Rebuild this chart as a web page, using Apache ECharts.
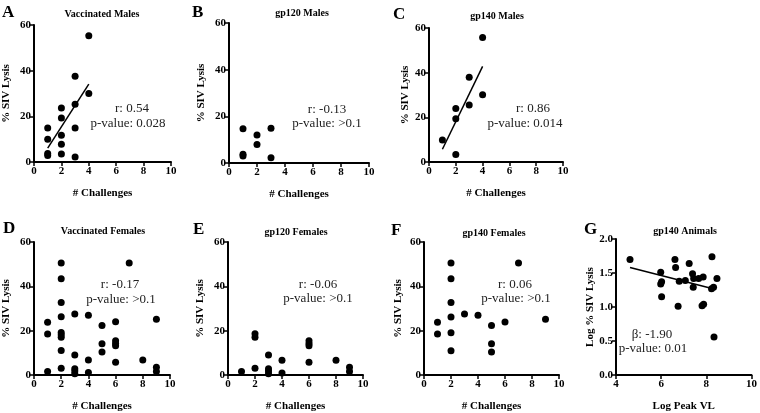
<!DOCTYPE html>
<html>
<head>
<meta charset="utf-8">
<script src="https://cdn.jsdelivr.net/npm/echarts@6/dist/echarts.min.js"></script>
<style>
html,body{margin:0;padding:0;background:#fff;}
#chart{width:760px;height:413px;}
</style>
</head>
<body>
<div id="chart"></div>
<script>
// ---- Data ----
const challengesA = [1,1,1,1,2,2,2,2,2,3,3,3,3,4,4];
const lysisA      = [14.9,10,3.7,2.9,23.7,19.3,11.7,7.8,3.5,37.6,25.3,14.9,2.2,55.3,30];
const fitA        = [[1,6.1],[4,34.1]];

const challengesB = [1,1,1,2,2,3,3];
const lysisB      = [14.7,3.7,3.0,12.0,7.9,14.9,2.3];

const challengesC = [1,2,2,2,3,3,4,4];
const lysisC      = [9.9,3.4,19.4,23.9,25.5,37.9,55.8,30.1];
const fitC        = [[1,5.7],[4,42.8]];

const challengesD = [1,1,1,2,2,2,2,2,2,2,2,2,3,3,3,3,3,4,4,4,5,5,5,6,6,6,6,6,7,8,9,9,9];
const lysisD      = [23.8,18.5,1.6,50.5,43.4,32.7,26.3,19.2,18.2,17.0,11.1,3.1,27.5,9.0,2.8,1.8,0.6,27.0,6.8,1.1,22.3,14.1,10.4,24.0,15.4,14.2,13.2,5.7,50.5,6.8,25.1,3.5,1.6];

const challengesE = [1,2,2,2,3,3,3,3,4,4,6,6,6,6,8,9,9];
const lysisE      = [1.6,18.6,17.0,3.1,9.0,2.8,1.8,0.6,6.7,0.9,15.4,14.2,13.2,5.7,6.7,3.5,1.6];

const challengesF = [1,1,2,2,2,2,2,2,3,4,5,5,5,6,7,9];
const lysisF      = [23.8,18.5,50.5,43.4,32.7,26.2,19.1,10.9,27.5,26.9,22.3,14.1,10.4,23.9,50.5,25.1];

const peakVLG     = [4.62,6.61,8.25,7.24,6.64,5.98,7.39,7.86,7.66,7.44,8.47,7.07,6.80,6.02,5.98,7.42,8.32,8.23,6.02,6.75,7.81,7.88,8.34];
const logLysisG   = [1.70,1.70,1.74,1.64,1.58,1.51,1.49,1.44,1.42,1.42,1.42,1.39,1.38,1.37,1.34,1.29,1.29,1.27,1.15,1.01,1.02,1.04,0.56];
const fitG        = [[4.62,1.58],[8.38,1.26]];

const panelLetters = ['A','B','C','D','E','F','G'];
const panelTitles  = ['Vaccinated Males','gp120 Males','gp140 Males','Vaccinated Females','gp120 Females','gp140 Females','gp140 Animals'];
const statLine1    = ['r: 0.54','r: -0.13','r: 0.86','r: -0.17','r: -0.06','r: 0.06','β: -1.90'];
const statLine2    = ['p-value: 0.028','p-value: >0.1','p-value: 0.014','p-value: >0.1','p-value: >0.1','p-value: >0.1','p-value: 0.01'];

// ---- Layout ----
const grids = [
  {left:34,  top:25,  width:137, height:137},
  {left:229, top:23,  width:140, height:140},
  {left:429, top:28,  width:134, height:134},
  {left:34,  top:242, width:136, height:136},
  {left:228, top:242, width:135, height:136},
  {left:424, top:242, width:135, height:136},
  {left:616, top:239, width:136, height:138}
];
const letterPos = [[2,4],[192,4],[393,6],[3,220],[193,221],[391,222],[584,221]];
const titlePos  = [[102,14],[302,13],[497,16],[103,231],[296,232],[494,233],[685,231]];
const stat1Pos  = [[132,109],[327,110],[533,109],[120,285],[318,285],[515,285],[652,335]];
const stat2Pos  = [[128,124],[327,124],[525,124],[121,300],[318,299],[516,299],[653,349]];

const SERIF = 'Liberation Serif';
const zip = (xs, ys) => xs.map((x,i)=>[x, ys[i]]);

function xAxis(i, min, max, interval, name){
  return {
    gridIndex:i, type:'value', min, max, interval,
    axisLine:{show:true, onZero:false, lineStyle:{color:'#000', width:2}},
    axisTick:{show:true, length:4, lineStyle:{color:'#000', width:1.5}},
    axisLabel:{color:'#000', fontFamily:SERIF, fontWeight:'bold', fontSize:11, margin:4},
    splitLine:{show:false},
    name, nameLocation:'middle', nameGap:26,
    nameTextStyle:{color:'#000', fontFamily:SERIF, fontWeight:'bold', fontSize:11}
  };
}
function yAxis(i, min, max, interval, name, gap, fmt){
  return {
    gridIndex:i, type:'value', min, max, interval,
    axisLine:{show:true, onZero:false, lineStyle:{color:'#000', width:2}},
    axisTick:{show:true, length:4, lineStyle:{color:'#000', width:1.5}},
    axisLabel:{color:'#000', fontFamily:SERIF, fontWeight:'bold', fontSize:11, margin:3,
               formatter: fmt || (v=>String(v))},
    splitLine:{show:false},
    name, nameLocation:'middle', nameGap:gap,
    nameTextStyle:{color:'#000', fontFamily:SERIF, fontWeight:'bold', fontSize:11}
  };
}

const xAxes = [], yAxes = [];
const yGaps = [22, 22, 15, 22, 22, 20, 20];
for (let i=0;i<6;i++){
  xAxes.push(xAxis(i,0,10,2,'# Challenges'));
  yAxes.push(yAxis(i,0,60,20,'% SIV Lysis', yGaps[i]));
}
xAxes.push(xAxis(6,4,10,2,'Log Peak VL'));
yAxes.push(yAxis(6,0,2,0.5,'Log % SIV Lysis', yGaps[6], v=>v.toFixed(1)));

const scatterSets = [
  zip(challengesA, lysisA), zip(challengesB, lysisB), zip(challengesC, lysisC),
  zip(challengesD, lysisD), zip(challengesE, lysisE), zip(challengesF, lysisF),
  zip(peakVLG, logLysisG)
];
const series = scatterSets.map((d,i)=>({
  type:'scatter', xAxisIndex:i, yAxisIndex:i, data:d,
  symbol:'circle', symbolSize:7, itemStyle:{color:'#000', opacity:1}, silent:true
}));
[[0,fitA],[2,fitC],[6,fitG]].forEach(([i,f])=>{
  series.push({type:'line', xAxisIndex:i, yAxisIndex:i, data:f, symbol:'none',
    lineStyle:{color:'#000', width:1.5}, silent:true});
});

const graphic = [];
for (let i=0;i<7;i++){
  graphic.push({type:'text', left:letterPos[i][0], top:letterPos[i][1],
    style:{text:panelLetters[i], font:'bold 17px "Liberation Serif"', fill:'#000'}});
  graphic.push({type:'text', x:titlePos[i][0], y:titlePos[i][1],
    style:{text:panelTitles[i], font:'bold 10px "Liberation Serif"', fill:'#000', textAlign:'center', textVerticalAlign:'middle'}});
  graphic.push({type:'text', x:stat1Pos[i][0], y:stat1Pos[i][1],
    style:{text:statLine1[i], font:'13px "Liberation Serif"', fill:'#222', textAlign:'center', textVerticalAlign:'middle'}});
  graphic.push({type:'text', x:stat2Pos[i][0], y:stat2Pos[i][1],
    style:{text:statLine2[i], font:'13px "Liberation Serif"', fill:'#222', textAlign:'center', textVerticalAlign:'middle'}});
}

const chart = echarts.init(document.getElementById('chart'), null, {renderer:'canvas'});
chart.setOption({
  animation:false,
  backgroundColor:'#fff',
  grid: grids,
  xAxis: xAxes,
  yAxis: yAxes,
  series,
  graphic
});
</script>
</body>
</html>
